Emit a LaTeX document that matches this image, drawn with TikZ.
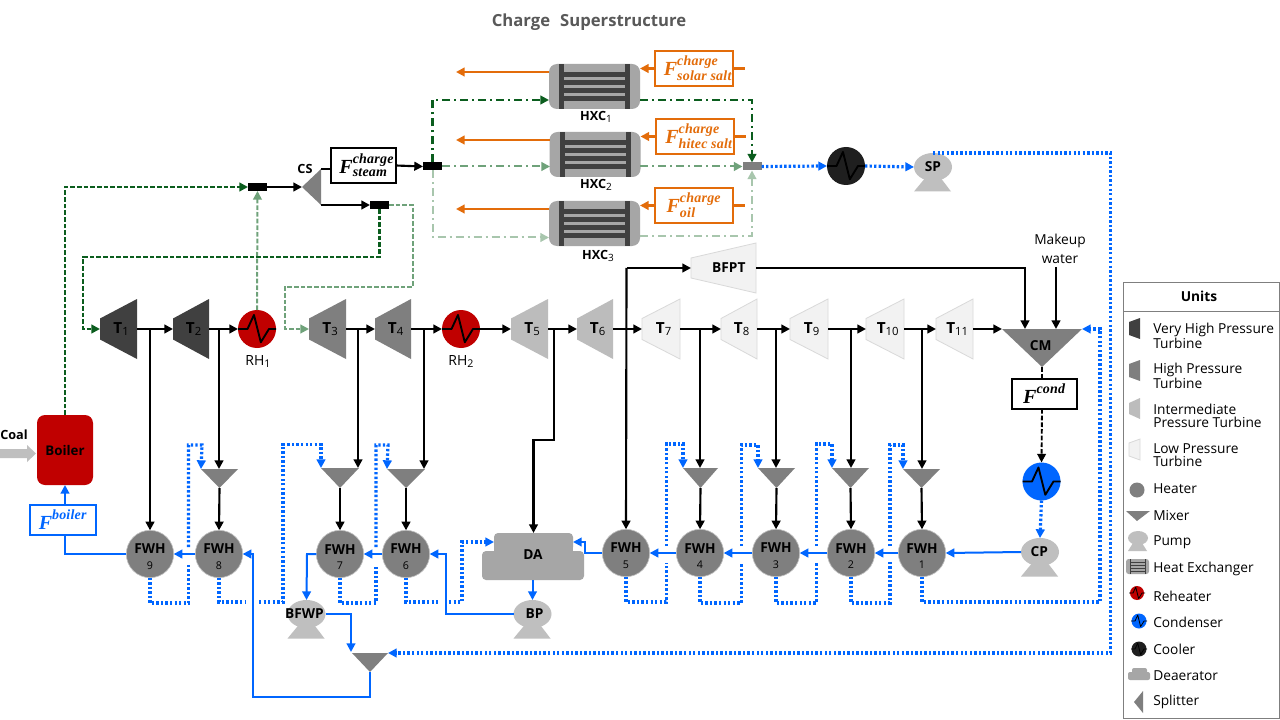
\documentclass[tikz,border=0pt]{standalone}
\usepackage{fontspec}
\setmainfont{Open Sans}
\newfontfamily\mfontw[LetterSpace=1.5]{Liberation Serif}
\usetikzlibrary{arrows.meta,calc,shapes.geometric}
\definecolor{cVHP}{HTML}{404040}
\definecolor{cHP}{HTML}{7F7F7F}
\definecolor{cIP}{HTML}{BCBCBC}
\definecolor{cLP}{HTML}{F2F2F2}
\definecolor{cLPb}{HTML}{D9D9D9}
\definecolor{cRed}{HTML}{C00000}
\definecolor{cBlue}{HTML}{0066FF}
\definecolor{cOr}{HTML}{E36C0A}
\definecolor{cDG}{HTML}{0B5D1E}
\definecolor{cMG}{HTML}{6FA27A}
\definecolor{cLG}{HTML}{A8C6AD}
\definecolor{cHX}{HTML}{A6A6A6}
\definecolor{cPump}{HTML}{BFBFBF}
\definecolor{cTitle}{HTML}{595959}
\tikzset{
  tbA/.style={fill=cVHP},
  tbB/.style={fill=cHP},
  tbC/.style={fill=cIP},
  tbD/.style={fill=cLP,draw=cLPb,line width=0.6pt},
  hit/.style={inner sep=0pt,outer sep=0pt,font=\fontsize{10.3}{12}\selectfont\bfseries},
  arr/.style={-{Triangle[length=6.5pt,width=6.5pt]}},
  blk/.style={arr,black,line width=1.6pt},
  blkn/.style={black,line width=1.6pt},
  blu/.style={arr,cBlue,line width=1.5pt},
  blun/.style={cBlue,line width=1.5pt},
  bdot/.style={arr,cBlue,line width=2.4pt,dash pattern=on 1.8pt off 1.6pt},
  bdotn/.style={cBlue,line width=2.4pt,dash pattern=on 1.8pt off 1.6pt},
  ora/.style={arr,cOr,line width=1.6pt},
  oran/.style={cOr,line width=1.6pt},
  dgd/.style={arr,cDG,line width=1.6pt,dash pattern=on 3.5pt off 1.5pt},
  mgd/.style={arr,cMG,line width=1.5pt,dash pattern=on 3.5pt off 1.5pt},
  ddg/.style={arr,cDG,line width=1.7pt,dash pattern=on 6pt off 3pt on 1.5pt off 3pt},
  dmg/.style={arr,cMG,line width=1.5pt,dash pattern=on 6pt off 3pt on 1.5pt off 3pt},
  dlg/.style={arr,cLG,line width=1.5pt,dash pattern=on 6pt off 3pt on 1.5pt off 3pt},
  fwh/.style={circle,fill=cHP,draw=cPump,line width=0.5pt,minimum size=35.5pt,inner sep=0pt,outer sep=0pt,align=center,font=\fontsize{10.3}{12}\selectfont\bfseries},
  hot/.style={circle,fill=#1,minimum size=28.5pt,inner sep=0pt,outer sep=0pt},
  split/.style={inner sep=0pt,outer sep=0pt,minimum width=14.25pt,minimum height=6pt,fill=#1},
  fbox/.style={draw=#1,text=#1,line width=0.8pt,inner sep=0pt,outer sep=0pt},
  lgd/.style={anchor=west,inner sep=0pt,align=left,font=\fontsize{10.3}{9.75}\selectfont},
  txt/.style={inner sep=0pt,font=\fontsize{9.5}{12}\selectfont\bfseries},
  hxb/.style={fill=cHX,rounded corners=6pt,minimum width=68.25pt,minimum height=33.75pt,inner sep=0pt,outer sep=0pt},
}
\newcommand\turbine[6]{%
  \path[#5] ({#2},{#4-10.5}) -- ({#3},{#4-30}) -- ({#3},{#4+30}) -- ({#2},{#4+10.5}) -- cycle;
  \node[hit,minimum width={(#3-#2)*0.75pt},minimum height=45pt] (#1) at ({(#2+#3)/2},#4) {\hspace*{4pt}#6};}
\newcommand\mixer[6]{%
  \fill[cHP] ({#2-#4},#3) -- ({#2+#4},#3) -- (#2,{#3+#5}) -- cycle;
  \node[hit,minimum width={2*#4*0.75pt},minimum height={#5*0.75pt}] (#1) at (#2,{#3+#5/2}) {#6};}
\newcommand\pump[4]{%
  \fill[cPump] ({#2-19},{#3+24.5}) -- ({#2+18},{#3+24.5}) -- ({#2+7},{#3+10}) -- ({#2-7},{#3+10}) -- cycle;
  \path (#2,#3) node[ellipse,fill=cPump,hit,minimum width=28.5pt,minimum height=21pt] (#1) {\makebox[0pt]{#4}};}
\newcommand\zig[4]{% cx cy r colour-lw
  \draw[#4,line join=round] ({#1-#3},#2) -- ({#1-.5*#3},#2) -- ({#1-.16*#3},{#2-.74*#3}) -- ({#1+.2*#3},{#2+.7*#3}) -- ({#1+.63*#3},#2) -- ({#1+#3},#2);}
\newcommand\hxc[3]{% name cx ytop
  \node[hxb] (#1) at (#2,{#3+22.5}) {};
  \fill[cVHP] ({#2-35.5},#3) rectangle ({#2-30.5},{#3+45});
  \fill[cVHP] ({#2+30.5},#3) rectangle ({#2+35.5},{#3+45});
  \foreach \q in {8,16,24,32} {\fill[cVHP] ({#2-31},{#3+\q}) rectangle ({#2+31},{#3+\q+5});}}
\newcommand\mfs[2]{\mbox{\mfontw\bfseries\itshape\fontsize{#1}{#1}\selectfont #2}}
\newcommand\FF[2]{$\mfs{15}{F}^{\mfs{10.5}{#1}}_{\mfs{10.5}{#2}}$}
\newcommand\FG[1]{$\mfs{15}{F}^{\mfs{10.5}{#1}}$}
\newcommand\tsub[2]{{\fontsize{11.5}{12}\selectfont #1}\raisebox{-2pt}{\fontsize{8.5}{9}\selectfont\mdseries #2}}
\begin{document}
\begin{tikzpicture}[x=0.75pt,y=-0.75pt]
\useasboundingbox (0,0) rectangle (1280,720);
\fill[white] (0,0) rectangle (1280,720);
% title
\node[inner sep=0pt,text=cTitle,font=\fontsize{12.5}{14}\selectfont\bfseries] (title) at (589,22.5) {Charge\hspace{0.6em}Superstructure};
% coal + boiler
\fill[cPump] (0,449) -- (27,449) -- (27,445) -- (36,453.5) -- (27,462) -- (27,458) -- (0,458) -- cycle;
\node[txt] (coal) at (14,435) {Coal};
\node[fill=cRed,rounded corners=6pt,minimum width=42pt,minimum height=52.5pt,inner sep=0pt,outer sep=0pt,font=\fontsize{10}{12}\selectfont\bfseries] (Boiler) at (65,450) {Boiler};
\node[fbox=cBlue,minimum width=49.5pt,minimum height=22.5pt] (FB) at (63,520) {\FG{boiler}};
% turbines
\turbine{T1}{100}{137}{329}{tbA}{\tsub{T}{1}}
\turbine{T2}{173}{209}{329}{tbA}{\tsub{T}{2}}
\turbine{T3}{309}{346}{329}{tbB}{\tsub{T}{3}}
\turbine{T4}{375}{411}{329}{tbB}{\tsub{T}{4}}
\turbine{T5}{511}{548}{329}{tbC}{\tsub{T}{5}}
\turbine{T6}{577}{613}{329}{tbC}{\tsub{T}{6}}
\turbine{T7}{642}{680}{329}{tbD}{\tsub{T}{7}}
\turbine{T8}{721}{757}{329}{tbD}{\tsub{T}{8}}
\turbine{T9}{790}{828}{329}{tbD}{\tsub{T}{9}}
\turbine{T10}{866}{904}{329}{tbD}{\tsub{T}{10}}
\turbine{T11}{936}{973}{329}{tbD}{\tsub{T}{11}}
\path[tbD] (691,258) -- (756,243) -- (756,293) -- (691,278) -- cycle;
\node[hit,minimum width=48.75pt,minimum height=37.5pt] (BFPT) at (723.5,268) {\hspace*{8pt}BFPT};
% reheaters, condenser, cooler
\node[hot=cRed] (RH1) at (257,329) {};
\node[hot=cRed] (RH2) at (461,329) {};
\node[hot=cBlue] (Cond) at (1041.5,481.5) {};
\node[hot=black!88] (Cool) at (846,166) {};
\zig{257}{329}{19}{black,line width=1.4pt}
\zig{461}{329}{19}{black,line width=1.4pt}
\zig{1041.5}{481.5}{19}{black,line width=1.4pt}
\zig{846}{166}{19}{black,line width=1.4pt}
\node[inner sep=0pt,font=\fontsize{10.5}{12}\selectfont] (RH1l) at (258,361.5) {RH\raisebox{-2pt}{\fontsize{8}{8}\selectfont 1}};
\node[inner sep=0pt,font=\fontsize{10.5}{12}\selectfont] (RH2l) at (461,361.5) {RH\raisebox{-2pt}{\fontsize{8}{8}\selectfont 2}};
% heaters
\foreach \n/\px/\py in {9/150/554,8/219/554,7/340/554,6/406/554,5/626/553,4/700/553,3/776/553,2/851/553,1/922/553}
  \node[fwh] (FWH\n) at (\px,\py) {\rule{0pt}{11.5pt}FWH\\[-0.5pt]{\fontsize{8}{9}\selectfont\mdseries \n}};
% mixers
\mixer{M8}{219.5}{469}{18.5}{19}{}
\mixer{M7}{340}{468}{19}{20}{}
\mixer{M6}{406}{469}{19}{19}{}
\mixer{M4}{700.5}{468}{17.5}{20}{}
\mixer{M3}{776.5}{468}{18.5}{20}{}
\mixer{M2}{850.5}{468}{18.5}{20}{}
\mixer{M1}{921.5}{469}{18.5}{19}{}
\mixer{Mb}{370}{653}{18}{19}{}
\mixer{CM}{1042}{329}{40}{38}{\raisebox{3pt}{\hspace*{-2pt}CM}}
% deaerator
\fill[cHX] (494,545) rectangle (573,556);
\node[fill=cHX,rounded corners=3pt,minimum width=59.25pt,minimum height=13.5pt,inner sep=0pt,outer sep=0pt] (DAu) at (533.5,542) {};
\node[fill=cHX,rounded corners=3pt,minimum width=76.5pt,minimum height=21.75pt,inner sep=0pt,outer sep=0pt] (DAl) at (533,565.5) {};
\node[hit] (DAt) at (533,555) {DA};
% pumps
\pump{CP}{1040}{552}{\hspace*{-1pt}CP}
\pump{SP}{933}{167}{SP}
\pump{BP}{532.5}{614}{\hspace*{3pt}BP}
\pump{BFWP}{306.5}{614}{\hspace*{-3pt}BFWP}
% heat exchangers
\hxc{HXC1}{594.5}{64}
\hxc{HXC2}{595}{132}
\hxc{HXC3}{594.5}{201}
\node[txt] (HXC1l) at (596,117) {HXC\raisebox{-2pt}{\fontsize{7.5}{8}\selectfont\mdseries 1}};
\node[txt] (HXC2l) at (596,185) {HXC\raisebox{-2pt}{\fontsize{7.5}{8}\selectfont\mdseries 2}};
\node[txt] (HXC3l) at (598,256) {HXC\raisebox{-2pt}{\fontsize{7.5}{8}\selectfont\mdseries 3}};
% splitters
\node[split=black] (S1) at (257.5,187) {};
\node[split=black] (S2) at (379.5,205) {};
\node[split=black] (S3) at (432.5,166.5) {};
\node[split=cHP] (S4) at (752,166.5) {};
\fill[cHP] (302,187) -- (321,169) -- (321,205) -- cycle;
\node[inner sep=0pt,outer sep=0pt,minimum width=14.25pt,minimum height=27pt] (CS) at (311.5,187) {};
\node[txt] (CSl) at (305,169) {CS};
% flow boxes
\node[fbox=black,fill=white,minimum width=48.75pt,minimum height=26.25pt] (Fs) at (363.5,165.5) {\hspace*{5pt}\FF{charge}{steam}};
\node[fbox=cOr,minimum width=58.5pt,minimum height=26.25pt] (Oa) at (694,68.5) {\hspace*{6pt}\FF{charge}{solar salt}};
\node[fbox=cOr,minimum width=58.5pt,minimum height=26.25pt] (Ob) at (695,136.5) {\hspace*{6pt}\FF{charge}{hitec salt}};
\node[fbox=cOr,minimum width=58.5pt,minimum height=26.25pt] (Oc) at (694,205.5) {\FF{charge}{oil}};
\node[fbox=black,minimum width=48.75pt,minimum height=22.5pt] (Fc) at (1044.5,394) {\FG{cond}};
\node[inner sep=0pt,align=center,font=\fontsize{10.3}{14.25}\selectfont] (MW) at (1060,248.5) {Makeup\\water};
% ---- black connectors
\draw[blk] (T1.east) -- (T2.west);
\draw[blk] (T2.east) -- (RH1.west);
\draw[blk] (T3.east) -- (T4.west);
\draw[blk] (T4.east) -- (RH2.west);
\draw[blk] (RH2.east) -- (T5.west);
\draw[blk] (T5.east) -- (T6.west);
\draw[blk] (T6.east) -- (T7.west);
\draw[blk] (T7.east) -- (T8.west);
\draw[blk] (T8.east) -- (T9.west);
\draw[blk] (T9.east) -- (T10.west);
\draw[blk] (T10.east) -- (T11.west);
\draw[blk] (T11.east) -- (CM.north west);
\coordinate (j1) at (150,329);
\coordinate (j2) at (219,329);
\coordinate (j3) at (358,329);
\coordinate (j4) at (424,329);
\coordinate (j5) at (554,329);
\coordinate (j7) at (700,329);
\coordinate (j8) at (776,329);
\coordinate (j9) at (851,329);
\coordinate (j10) at (922,329);
\coordinate (jB) at (626.5,268);
\coordinate (jC) at (1025,329);
\coordinate (jD) at (1056,329);
\coordinate (mw) at (1056,267);
\draw[blk] (j1) -- (FWH9.north);
\draw[blk] (j2) -- (j2 |- M8.north);
\draw[blk] (j3) -- (j3 |- M7.north);
\draw[blk] (j4) -- (j4 |- M6.north);
\draw[blk] (j7) -- (j7 |- M4.north);
\draw[blk] (j8) -- (j8 |- M3.north);
\draw[blk] (j9) -- (j9 |- M2.north);
\draw[blk] (j10) -- (j10 |- M1.north);
\draw[blk] (M8.south) -- (FWH8.north);
\draw[blk] (M7.south) -- (FWH7.north);
\draw[blk] (M6.south) -- (FWH6.north);
\draw[blk] (M4.south) -- (FWH4.north);
\draw[blk] (M3.south) -- (FWH3.north);
\draw[blk] (M2.south) -- (FWH2.north);
\draw[blk] (M1.south) -- (FWH1.north);
\draw[blk] (j5) -- (554,440) -- (533.5,440) -- (DAu.north);
\draw[blk] (jB) -- (BFPT.west);
\draw[blk] (jB) -- (FWH5.north);
\draw[blk] (BFPT.east) -- (1025,268) -- (jC);
\draw[blk] (mw) -- (jD);
\draw[blk] (S1.east) -- (CS.west);
\draw[blkn] (CS.north east) -- (Fs.west |- CS.north east);
\draw[blk] (Fs.east) -- (S3.west);
\draw[blk] (CS.south east) -- (S2.west);
\draw[black,line width=1.4pt,dash pattern=on 3.5pt off 1.5pt] (CM.south) -- (CM.south |- Fc.north);
\draw[arr,black,line width=1.4pt,dash pattern=on 3.5pt off 1.5pt] (CM.south |- Fc.south) -- (Cond.north);
% ---- solid blue
\draw[blu] (CP.west) -- (FWH1.east);
\draw[blu] (FWH1.west) -- (FWH2.east);
\draw[blu] (FWH2.west) -- (FWH3.east);
\draw[blu] (FWH3.west) -- (FWH4.east);
\draw[blu] (FWH4.west) -- (FWH5.east);
\draw[blu] (FWH5.west) -- (585,553) -- (585,542) -- (DAu.east);
\draw[blu] (DAl.south -| DAu.south) ++(-1,0) -- (BP.north);
\draw[blu] (BP.west) -- (446,614) -- (446,554) -- (FWH6.east);
\draw[blu] (FWH6.west) -- (FWH7.east);
\draw[blu] (FWH7.west) -- (307,554) -- (BFWP.north);
\draw[blu] (BFWP.east) -- (351,614) -- (351,652);
\draw[blu] (Mb.south) -- (370,697) -- (253,697) -- (253,554) -- (FWH8.east);
\draw[blu] (FWH8.west) -- (FWH9.east);
\draw[blun] (FWH9.west) -| (Boiler.south |- FB.south);
\draw[blu] (Boiler.south |- FB.north) -- (Boiler.south);
% ---- dotted blue
\draw[bdotn] (FWH9.south) -- (150,603) -- (188.5,603) -- (188.5,565);
\draw[bdot] (188.5,547) -- (188.5,445) -- (202,445) -- (M8.north west);
\draw[bdotn] (FWH8.south) -- (219,602) -- (246,602);
\draw[bdot] (259,602) -- (283,602) -- (283,444.5) -- (M7.north west |- 283,444.5) -- (M7.north west);
\draw[bdotn] (FWH7.south) -- (340,603) -- (376,603) -- (376,565);
\draw[bdot] (376,547) -- (376,445) -- (388,445) -- (M6.north west);
\draw[bdotn] (FWH6.south) -- (406,602) -- (440,602);
\draw[bdot] (449,602) -- (462,602) -- (462,542) -- (DAu.west);
\draw[bdotn] (FWH5.south) -- (626,602) -- (666.5,602) -- (666.5,563);
\draw[bdot] (666.5,546) -- (666.5,444) -- (683,444) -- (M4.north west);
\draw[bdotn] (FWH4.south) -- (700,603) -- (741.5,603) -- (741.5,563);
\draw[bdot] (741.5,546) -- (741.5,445) -- (758,445) -- (M3.north west);
\draw[bdotn] (FWH3.south) -- (776,603) -- (816.5,603) -- (816.5,562);
\draw[bdot] (816.5,546) -- (816.5,444) -- (832,444) -- (M2.north west);
\draw[bdotn] (FWH2.south) -- (851,603) -- (890,603) -- (890,562);
\draw[bdot] (890,546) -- (890,445) -- (903,445) -- (M1.north west);
\draw[bdot] (FWH1.south) -- (922,602) -- (1100,602) -- (1100,329) -- (CM.north east);
\draw[bdot] (Cond.south) -- (CP.north);
\draw[bdot] (S4.east) -- (Cool.west);
\draw[bdot] (Cool.east) -- (SP.west);
\draw[bdot] (SP.north) -- (1110.5,153) -- (1110.5,653) -- (Mb.north east);
% ---- steam lines
\draw[dgd] (Boiler.north) -- (65,187) -- (S1.west);
\draw[mgd] (RH1.north) -- (S1.south);
\draw[dgd] (S2.south) -- (379.5,257) -- (83,257) -- (83,329) -- (T1.west);
\draw[mgd] (S2.east) -- (413,205) -- (413,286.5) -- (285,286.5) -- (285,329) -- (T3.west);
\coordinate (h1a) at (549,100);
\coordinate (h1b) at (640,100);
\coordinate (h2a) at (550,166.5);
\coordinate (h2b) at (640,166.5);
\coordinate (h3a) at (549,237.5);
\coordinate (h3b) at (640,236);
\draw[ddg] (S3.north) -- (432.5,100) -- (h1a);
\draw[ddg] (h1b) -- (752,100) -- (S4.north);
\draw[dmg] (S3.east) -- (h2a);
\draw[dmg] (h2b) -- (S4.west);
\draw[dlg] (S3.south) -- (432.5,237.5) -- (h3a);
\draw[dlg] (h3b) -- (752,236) -- (S4.south);
% ---- orange
\coordinate (oa) at (456,72);
\coordinate (ob) at (456,140);
\coordinate (oc) at (456,209);
\draw[ora] (HXC1.west |- oa) -- (oa);
\draw[ora] (HXC2.west |- ob) -- (ob);
\draw[ora] (HXC3.west |- oc) -- (oc);
\draw[ora] (Oa.west) -- (HXC1.east |- Oa.west);
\draw[ora] (Ob.west) -- (HXC2.east |- Ob.west);
\draw[ora] (Oc.west) -- (HXC3.east |- Oc.west);
\draw[oran] (Oa.east) -- ++(12,0);
\draw[oran] (Ob.east) -- ++(12,0);
\draw[oran] (Oc.east) -- ++(12,0);
% ---- legend
\node[draw=cHP,line width=0.7pt,minimum width=117pt,minimum height=327pt,inner sep=0pt,outer sep=0pt] (Lbox) at (1201,500) {};
\draw[cHP,line width=0.7pt] (Lbox.west |- 0,311) -- (Lbox.east |- 0,311);
\node[hit] (Lh) at (1199,296) {Units};
\fill[cVHP] (1129,322) -- (1140,318) -- (1140,339) -- (1129,335) -- cycle;
\fill[cHP] (1129,364) -- (1140,360) -- (1140,381) -- (1129,377) -- cycle;
\fill[cIP] (1129,403) -- (1140,398) -- (1140,419) -- (1129,414) -- cycle;
\path[tbD] (1129,443) -- (1140,439) -- (1140,460) -- (1129,456) -- cycle;
\fill[cHP] (1137,490) circle (7.5);
\fill[cHP] (1126,511) -- (1150,511) -- (1137,521) -- cycle;
\fill[cPump] (1128,551) -- (1147,551) -- (1142,543) -- (1133,543) -- cycle;
\fill[cPump] (1138,538) ellipse (10 and 7);
\fill[cHX,rounded corners=2pt] (1126,559) rectangle (1149,574);
\fill[cVHP] (1130,559) rectangle (1131,574);
\fill[cVHP] (1145,559) rectangle (1146,574);
\foreach \q in {561.5,564.5,567.5,570.5} {\fill[cVHP] (1130,\q) rectangle (1146,{\q+1});}
\fill[cRed] (1137,593) circle (7);
\zig{1137}{593}{8}{black,line width=0.6pt}
\fill[cBlue] (1139,621) circle (7.5);
\zig{1139}{621}{8}{black,line width=0.6pt}
\fill[black!88] (1139,649) circle (7.5);
\zig{1139}{649}{8}{black,line width=0.6pt}
\fill[cHX,rounded corners=1.5pt] (1128,672) rectangle (1150,680);
\fill[cHX,rounded corners=1.5pt] (1132,668) rectangle (1147,676);
\fill[cHP] (1134,702) -- (1143,691) -- (1143,713) -- cycle;
\node[lgd] (L1) at (1153,335.5) {Very High Pressure\\Turbine};
\node[lgd] (L2) at (1153,375.5) {High Pressure\\Turbine};
\node[lgd] (L3) at (1153,415.5) {Intermediate\\Pressure Turbine};
\node[lgd] (L4) at (1153,455.5) {Low Pressure\\Turbine};
\node[lgd] (L5) at (1153,489) {Heater};
\node[lgd] (L6) at (1153,516) {Mixer};
\node[lgd] (L7) at (1153,542) {Pump};
\node[lgd] (L8) at (1153,569) {Heat Exchanger};
\node[lgd] (L9) at (1153,596) {Reheater};
\node[lgd] (L10) at (1153,622) {Condenser};
\node[lgd] (L11) at (1153,649) {Cooler};
\node[lgd] (L12) at (1153,676) {Deaerator};
\node[lgd] (L13) at (1153,702) {Splitter};
\end{tikzpicture}
\end{document}
